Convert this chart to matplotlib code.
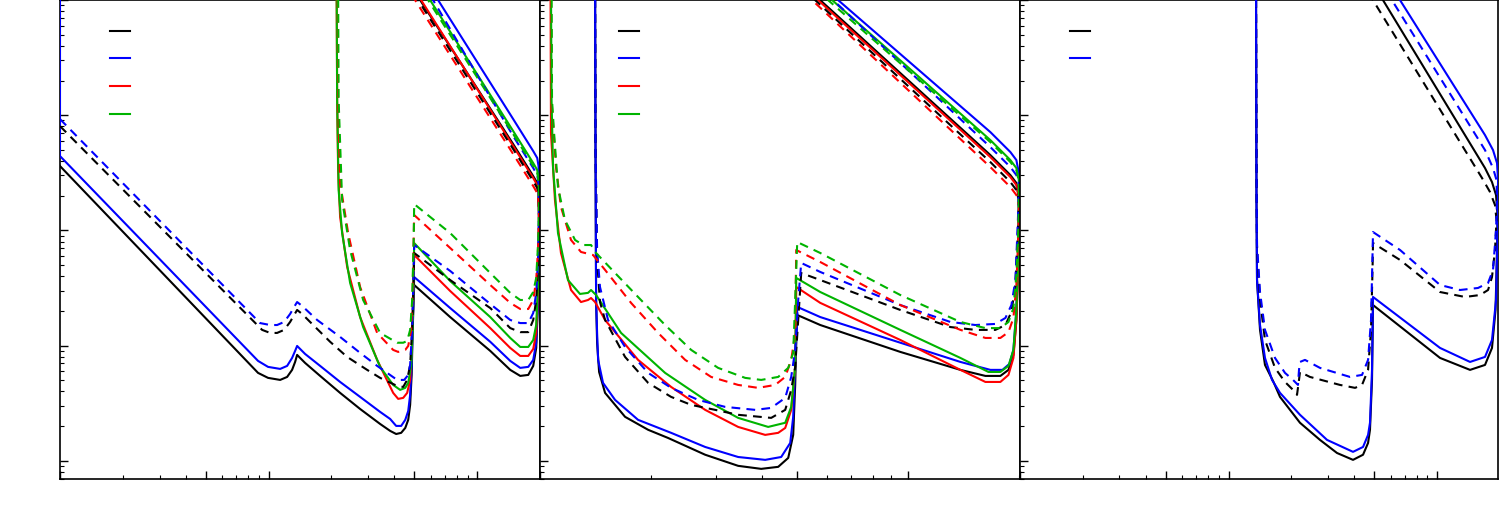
import matplotlib
matplotlib.use("Agg")
import matplotlib.pyplot as plt
from matplotlib.ticker import FixedLocator, LogLocator, NullFormatter

# ---- panel 1 (k = black, b = blue, r = red, g = green; s = solid, d = dashed)
p1_ks_x = [1.0, 8.90, 9.94, 11.36, 12.27, 12.96, 13.40, 13.70, 14.16, 14.96, 17.66, 22.02, 27.46, 34.25, 38.25, 40.88, 43.2, 45.2, 46.7, 47.7, 48.5, 49.05, 49.87, 74.2, 115.5, 144.0, 160.8, 175.7, 185.6, 191.8, 196.2, 197.9, 196.8, 194.0, 185.6, 148.8, 53.3, 47.7]
p1_ks_y = [362, 5.80, 5.25, 5.04, 5.35, 6.16, 7.22, 8.31, 7.82, 7.08, 5.46, 3.89, 2.82, 2.09, 1.82, 1.71, 1.75, 1.93, 2.27, 3.06, 5.57, 13.7, 33.6, 17.7, 9.0, 6.16, 5.46, 5.57, 6.67, 9.55, 27.5, 100.8, 220, 258, 296, 561, 9960, 13710]
p1_bs_x = [1.0, 1.0, 8.90, 9.94, 11.36, 12.27, 12.96, 13.40, 13.70, 14.16, 14.96, 17.66, 22.02, 27.46, 34.25, 38.25, 40.88, 43.2, 45.2, 46.7, 47.7, 48.5, 49.05, 49.87, 74.2, 115.5, 144.0, 160.8, 175.7, 185.6, 191.8, 196.2, 197.9, 196.8, 194.0, 185.6, 148.8, 65.0, 58.2]
p1_bs_y = [13710, 442, 7.37, 6.54, 6.28, 6.67, 7.82, 9.0, 9.94, 9.36, 8.47, 6.67, 4.84, 3.59, 2.66, 2.31, 2.01, 2.01, 2.27, 2.71, 3.74, 6.80, 15.1, 39.4, 21.2, 10.8, 7.37, 6.41, 6.54, 7.52, 10.6, 30.4, 123, 362, 425, 488, 925, 9960, 13710]
p1_kd_x = [1.0, 9.31, 10.17, 10.98, 11.87, 12.68, 13.26, 13.70, 14.48, 15.81, 19.72, 23.80, 29.68, 34.25, 41.33, 44.18, 46.16, 47.7, 48.78, 49.6, 49.87, 74.2, 115.5, 144.0, 160.8, 175.7, 185.6, 191.8, 196.2, 197.9, 196.8, 194.0, 185.6, 148.8, 52.1, 46.7]
p1_kd_y = [804, 13.7, 12.89, 12.89, 13.7, 16.05, 18.46, 20.4, 18.83, 16.05, 10.8, 7.98, 6.16, 5.25, 4.47, 4.38, 5.04, 6.80, 13.7, 37.1, 63.7, 37.1, 21.2, 14.2, 13.1, 13.1, 16.7, 24.9, 50.1, 123, 199, 233, 268, 508, 9960, 13710]
p1_bd_x = [1.0, 9.10, 10.17, 10.98, 11.87, 12.68, 13.26, 13.70, 14.48, 17.09, 22.02, 27.46, 33.14, 41.33, 44.67, 46.7, 47.7, 48.78, 49.6, 49.87, 74.2, 115.5, 144.0, 160.8, 175.7, 185.6, 191.8, 196.2, 197.9, 196.8, 194.0, 185.6, 148.8, 61.5, 55.1]
p1_bd_y = [925, 15.7, 15.1, 15.1, 16.05, 18.83, 21.7, 23.9, 22.1, 16.7, 11.9, 8.65, 6.67, 5.04, 5.04, 5.57, 6.80, 13.7, 45.4, 74.7, 44.5, 23.0, 16.7, 15.7, 15.7, 19.2, 28.7, 61.2, 150, 258, 302, 348, 659, 9960, 13710]
p1_rs_x = [21.19, 21.31, 21.54, 22.02, 23.80, 27.46, 33.14, 39.55, 41.8, 44.18, 46.16, 47.7, 48.5, 49.32, 49.87, 74.2, 115.5, 144.0, 160.8, 175.7, 185.6, 191.8, 196.2, 197.9, 196.8, 194.0, 185.6, 148.8, 53.9, 48.25]
p1_rs_y = [13710, 1352, 334, 130.7, 48.2, 17.7, 7.52, 3.89, 3.45, 3.52, 3.89, 5.04, 9.18, 24.9, 61.2, 29.8, 14.2, 9.55, 8.14, 8.14, 9.36, 12.89, 33.6, 123, 211, 247.6, 284.8, 539.5, 9960, 13710]
p1_gs_x = [21.19, 21.31, 21.66, 22.51, 24.59, 28.39, 34.25, 39.55, 42.71, 45.2, 46.7, 48.25, 49.05, 49.87, 74.2, 115.5, 144.0, 160.8, 175.7, 185.6, 191.8, 196.2, 197.9, 196.8, 194.0, 185.6, 148.8, 59.5, 53.3]
p1_gs_y = [13710, 1352, 224, 94.9, 35.0, 14.5, 6.54, 4.56, 4.13, 4.30, 4.75, 6.80, 13.7, 77.7, 36.4, 17.7, 11.66, 9.74, 9.74, 11.2, 15.1, 37.1, 136, 284.8, 334, 384, 728, 9960, 13710]
p1_rd_x = [21.42, 21.54, 22.02, 24.06, 27.46, 33.14, 39.55, 41.8, 45.2, 46.7, 48.25, 49.05, 49.87, 74.2, 115.5, 144.0, 160.8, 175.7, 185.6, 191.8, 196.2, 197.9, 196.8, 194.0, 185.6, 148.8, 50.4, 45.2]
p1_rd_y = [13710, 1352, 258, 94.9, 32.3, 12.89, 9.18, 8.82, 9.18, 9.94, 13.7, 30.4, 136, 70.4, 33.6, 23.5, 20.8, 20.8, 24.9, 37.1, 74.7, 136, 180, 211, 242.7, 460, 9960, 13710]
p1_gd_x = [21.54, 21.66, 22.51, 24.59, 28.39, 34.25, 41.33, 44.18, 46.16, 47.7, 48.78, 49.6, 49.87, 74.2, 115.5, 144.0, 160.8, 175.7, 185.6, 191.8, 196.2, 197.9, 196.8, 194.0, 185.6, 148.8, 58.2, 52.1]
p1_gd_y = [13710, 1352, 183.5, 67.6, 24.9, 12.89, 10.6, 10.6, 10.98, 13.7, 24.9, 82.6, 169.4, 94.9, 42.7, 28.7, 24.9, 24.9, 29.2, 38.7, 82.6, 166.1, 268, 314.7, 361.8, 685.7, 9960, 13710]

# ---- panel 2
p2_ks_x = [1.411, 1.415, 1.420, 1.429, 1.447, 1.502, 1.702, 1.966, 2.227, 2.808, 3.451, 3.986, 4.433, 4.720, 4.869, 4.930, 4.962, 4.993, 5.767, 9.512, 13.85, 16.19, 17.78, 18.70, 19.29, 19.65, 19.91, 19.97, 19.84, 19.65, 18.93, 16.70, 5.767, 5.416]
p2_ks_y = [13710, 498, 24.9, 10.6, 5.91, 3.89, 2.41, 1.86, 1.58, 1.13, 0.905, 0.852, 0.887, 1.06, 1.68, 4.56, 11.2, 18.46, 15.1, 8.82, 6.16, 5.46, 5.46, 6.16, 8.31, 16.7, 55.4, 183.5, 211, 258, 302, 451, 9960, 13710]
p2_bs_x = [1.411, 1.415, 1.420, 1.429, 1.438, 1.483, 1.599, 1.846, 2.270, 2.808, 3.451, 4.087, 4.517, 4.779, 4.869, 4.930, 4.977, 4.993, 5.767, 9.512, 13.85, 16.70, 18.01, 18.81, 19.29, 19.65, 19.91, 19.97, 19.84, 19.65, 18.93, 16.70, 6.452, 6.060]
p2_bs_y = [13710, 498, 24.9, 12.89, 7.52, 4.75, 3.38, 2.27, 1.75, 1.32, 1.08, 1.02, 1.08, 1.43, 2.41, 6.54, 13.7, 21.7, 17.7, 10.6, 7.22, 6.16, 6.16, 6.94, 9.18, 20.4, 82.6, 302, 347.7, 407.9, 478.6, 713.7, 9960, 13710]
p2_kd_x = [1.411, 1.415, 1.429, 1.455, 1.502, 1.702, 1.966, 2.270, 2.573, 2.989, 3.451, 4.243, 4.632, 4.809, 4.930, 5.024, 5.119, 5.767, 9.512, 13.01, 15.21, 17.23, 18.35, 19.05, 19.53, 19.84, 19.97, 19.84, 19.65, 18.93, 16.70, 5.588, 5.250]
p2_kd_y = [13710, 498, 55.4, 23.9, 16.7, 7.98, 4.75, 3.59, 3.06, 2.77, 2.51, 2.36, 2.77, 4.13, 6.54, 16.7, 42.7, 37.1, 20.4, 14.5, 13.7, 13.7, 15.1, 19.6, 33.6, 100.8, 191.0, 194.9, 224.0, 262.9, 392, 9960, 13710]
p2_bd_x = [1.411, 1.415, 1.429, 1.455, 1.530, 1.702, 1.966, 2.270, 2.688, 3.182, 3.839, 4.243, 4.632, 4.809, 4.930, 5.024, 5.119, 5.767, 9.512, 13.01, 15.21, 17.23, 18.35, 19.05, 19.53, 19.84, 19.97, 19.84, 19.65, 18.93, 16.70, 6.254, 5.875]
p2_bd_y = [13710, 498, 67.6, 32.3, 16.7, 9.74, 5.80, 4.30, 3.38, 2.94, 2.77, 2.88, 3.52, 5.35, 9.18, 24.9, 52.2, 43.6, 22.5, 16.05, 15.1, 15.43, 17.39, 22.5, 37.1, 123, 258, 262.9, 302, 354.6, 528.9, 9960, 13710]
p2_rs_x = [1.068, 1.071, 1.098, 1.140, 1.214, 1.292, 1.350, 1.376, 1.411, 1.502, 1.846, 2.270, 2.808, 3.451, 4.087, 4.433, 4.632, 4.809, 4.930, 4.962, 5.767, 9.512, 13.85, 16.19, 17.78, 18.70, 19.29, 19.65, 19.91, 19.97, 19.84, 19.65, 18.93, 16.70, 5.692, 5.349]
p2_rs_y = [13710, 699.8, 183.5, 63.7, 30.4, 23.9, 24.9, 25.9, 23.9, 16.7, 7.52, 4.38, 2.77, 1.97, 1.68, 1.75, 1.93, 2.77, 6.54, 32.3, 23.5, 11.2, 6.16, 4.84, 4.84, 5.57, 7.82, 16.7, 61.2, 202.8, 215.3, 247.6, 290.5, 433, 9960, 13710]
p2_gs_x = [1.071, 1.075, 1.085, 1.119, 1.191, 1.284, 1.350, 1.376, 1.420, 1.660, 2.186, 2.808, 3.451, 4.164, 4.632, 4.809, 4.930, 4.962, 5.767, 9.512, 13.85, 16.50, 17.78, 18.70, 19.29, 19.65, 19.91, 19.97, 19.84, 19.65, 18.93, 16.70, 6.215, 5.836]
p2_gs_y = [13710, 1352, 354.6, 94.9, 37.1, 28.1, 28.7, 30.4, 27.5, 12.89, 5.80, 3.38, 2.36, 1.97, 2.14, 2.94, 6.54, 38.7, 29.2, 13.7, 7.82, 5.91, 5.91, 6.67, 9.18, 20.4, 67.6, 273.6, 302, 347.7, 407.9, 608.1, 9960, 13710]
p2_rd_x = [1.071, 1.075, 1.105, 1.140, 1.214, 1.292, 1.393, 1.502, 1.767, 2.093, 2.478, 2.915, 3.451, 3.912, 4.350, 4.632, 4.809, 4.930, 4.946, 4.962, 5.767, 9.512, 13.85, 16.19, 17.78, 18.70, 19.29, 19.65, 19.91, 19.97, 19.84, 19.65, 18.93, 16.70, 5.483, 5.152]
p2_rd_y = [13710, 1352, 354.6, 159.6, 82.6, 65.0, 61.2, 45.4, 23.5, 12.89, 7.52, 5.35, 4.56, 4.30, 4.56, 5.35, 7.52, 12.89, 30.4, 67.6, 53.2, 22.5, 13.7, 11.66, 11.66, 13.1, 17.39, 33.6, 100.8, 166.1, 176.3, 202.8, 237.9, 354.6, 9960, 13710]
p2_gd_x = [1.075, 1.078, 1.092, 1.119, 1.169, 1.245, 1.309, 1.376, 1.420, 1.599, 1.846, 2.186, 2.573, 3.045, 3.606, 3.986, 4.433, 4.720, 4.869, 4.930, 4.993, 5.767, 9.512, 13.85, 16.19, 17.78, 18.70, 19.29, 19.65, 19.91, 19.97, 19.84, 19.65, 18.93, 16.70, 6.060, 5.692]
p2_gd_y = [13710, 1352, 699.8, 237.9, 123, 82.6, 74.7, 74.7, 63.7, 42.7, 26.45, 15.1, 9.18, 6.41, 5.25, 5.04, 5.35, 6.41, 8.65, 24.9, 79.3, 63.7, 27.5, 16.05, 14.2, 14.2, 16.05, 21.2, 41.0, 111.4, 284.8, 290.5, 334.3, 392, 584.5, 9960, 13710]

# ---- panel 3
p3_ks_x = [13.55, 13.62, 13.70, 14.16, 14.96, 16.35, 17.66, 22.02, 27.46, 33.14, 39.55, 44.18, 46.7, 47.7, 48.78, 49.32, 103.4, 144.0, 169.9, 183.5, 190.8, 194.0, 195.1, 191.9, 183.5, 169.9, 55.1, 49.32]
p3_ks_y = [13710, 183.5, 37.1, 13.7, 6.80, 4.94, 3.59, 2.14, 1.52, 1.17, 1.02, 1.13, 1.43, 1.86, 5.04, 22.5, 7.82, 6.16, 6.80, 9.55, 20.4, 67.6, 136, 202.8, 262.9, 347.7, 9960, 13710]
p3_bs_x = [13.55, 13.62, 13.70, 14.16, 14.96, 16.17, 17.66, 22.02, 29.68, 39.55, 44.18, 46.7, 47.7, 48.78, 49.32, 103.4, 144.0, 169.9, 183.5, 191.9, 195.1, 196.2, 194.0, 185.6, 169.9, 66.5, 59.5]
p3_bs_y = [13710, 183.5, 37.1, 15.1, 7.82, 5.04, 3.89, 2.51, 1.52, 1.197, 1.32, 1.68, 2.14, 6.16, 26.45, 9.55, 7.22, 7.98, 11.2, 24.9, 100.8, 273.6, 384, 498.2, 672, 9960, 13710]
p3_kd_x = [13.55, 13.62, 13.70, 14.16, 14.96, 16.71, 18.66, 20.39, 21.31, 21.78, 22.02, 24.59, 34.25, 40.44, 43.69, 46.7, 48.25, 49.05, 49.32, 66.5, 103.4, 136.2, 160.8, 175.7, 183.5, 189.7, 192.9, 189.7, 179.6, 164.4, 49.32, 44.18]
p3_kd_y = [13710, 498.2, 67.6, 24.9, 11.2, 6.41, 4.84, 4.13, 3.74, 5.04, 5.91, 5.35, 4.56, 4.30, 4.56, 6.16, 13.7, 45.4, 77.7, 55.4, 29.2, 26.45, 27.5, 30.4, 39.4, 67.6, 123, 166.1, 215.3, 284.8, 9960, 13710]
p3_bd_x = [13.55, 13.62, 13.70, 14.16, 14.96, 16.71, 18.66, 20.39, 21.54, 21.78, 22.02, 23.27, 27.46, 38.25, 43.69, 46.7, 48.25, 49.05, 49.32, 66.5, 103.4, 128.9, 157.2, 175.7, 185.6, 191.9, 194.0, 192.9, 185.6, 169.9, 60.8, 54.5]
p3_bd_y = [13710, 498.2, 74.7, 29.2, 13.7, 7.82, 5.80, 5.04, 4.56, 6.16, 7.22, 7.52, 6.41, 5.35, 5.57, 7.52, 16.7, 61.2, 96.8, 67.6, 33.6, 30.4, 31.65, 35.0, 45.4, 100.8, 183.5, 273.6, 347.7, 498.2, 9960, 13710]

BLACK, BLUE, RED, GREEN = "#000000", "#0000ff", "#ff0000", "#00b400"

panels = [
    dict(series=[(p1_ks_x, p1_ks_y, BLACK, "-"), (p1_bs_x, p1_bs_y, BLUE, "-"),
                 (p1_rs_x, p1_rs_y, RED, "-"), (p1_gs_x, p1_gs_y, GREEN, "-"),
                 (p1_kd_x, p1_kd_y, BLACK, "--"), (p1_bd_x, p1_bd_y, BLUE, "--"),
                 (p1_rd_x, p1_rd_y, RED, "--"), (p1_gd_x, p1_gd_y, GREEN, "--")],
         left=0.04, width=0.32, xlim=(1, 200), xmajor=[1, 5, 10, 50, 100],
         xminor=[2, 3, 4, 6, 7, 8, 9, 20, 30, 40, 60, 70, 80, 90, 200], legx=0.104),
    dict(series=[(p2_ks_x, p2_ks_y, BLACK, "-"), (p2_bs_x, p2_bs_y, BLUE, "-"),
                 (p2_rs_x, p2_rs_y, RED, "-"), (p2_gs_x, p2_gs_y, GREEN, "-"),
                 (p2_kd_x, p2_kd_y, BLACK, "--"), (p2_bd_x, p2_bd_y, BLUE, "--"),
                 (p2_rd_x, p2_rd_y, RED, "--"), (p2_gd_x, p2_gd_y, GREEN, "--")],
         left=0.36, width=0.32, xlim=(1, 20.1), xmajor=[1, 5, 10],
         xminor=[2, 3, 4, 6, 7, 8, 9, 20], legx=0.165),
    dict(series=[(p3_ks_x, p3_ks_y, BLACK, "-"), (p3_bs_x, p3_bs_y, BLUE, "-"),
                 (p3_kd_x, p3_kd_y, BLACK, "--"), (p3_bd_x, p3_bd_y, BLUE, "--")],
         left=0.68, width=0.3187, xlim=(1, 196.2), xmajor=[1, 5, 10, 50, 100],
         xminor=[2, 3, 4, 6, 7, 8, 9, 20, 30, 40, 60, 70, 80, 90], legx=0.105),
]

fig = plt.figure(figsize=(15, 5.25), dpi=100)
for p in panels:
    ax = fig.add_axes([p["left"], 0.0882, p["width"], 0.9118])
    solids = []
    for x, y, c, ls in p["series"]:
        if ls == "-":
            ln, = ax.plot(x, y, color=c, lw=1.5, solid_joinstyle="round", zorder=3)
            solids.append(ln)
        else:
            ax.plot(x, y, color=c, lw=1.5, dashes=(4.2, 3.0), zorder=3)
    ax.set_xscale("log")
    ax.set_yscale("log")
    ax.set_xlim(*p["xlim"])
    ax.set_ylim(0.70, 1.0e4)
    ax.xaxis.set_major_locator(FixedLocator(p["xmajor"]))
    ax.xaxis.set_minor_locator(FixedLocator(p["xminor"]))
    ax.yaxis.set_major_locator(LogLocator(base=10, numticks=20))
    ax.yaxis.set_minor_locator(LogLocator(base=10, subs=range(2, 10), numticks=50))
    ax.xaxis.set_minor_formatter(NullFormatter())
    ax.yaxis.set_minor_formatter(NullFormatter())
    ax.tick_params(which="both", direction="in", top=False, right=False,
                   labelbottom=False, labelleft=False)
    ax.tick_params(which="major", length=6, width=1.0)
    ax.tick_params(which="minor", length=3, width=0.8)
    for s in ax.spines.values():
        s.set_linewidth(1.2)
    ax.legend(solids, [" "] * len(solids), loc="upper left",
              bbox_to_anchor=(p["legx"], 0.949), frameon=False,
              handlelength=1.45, handletextpad=0.4, labelspacing=1.0,
              borderaxespad=0, borderpad=0, fontsize=10)

fig.savefig("out.png", dpi=100)
